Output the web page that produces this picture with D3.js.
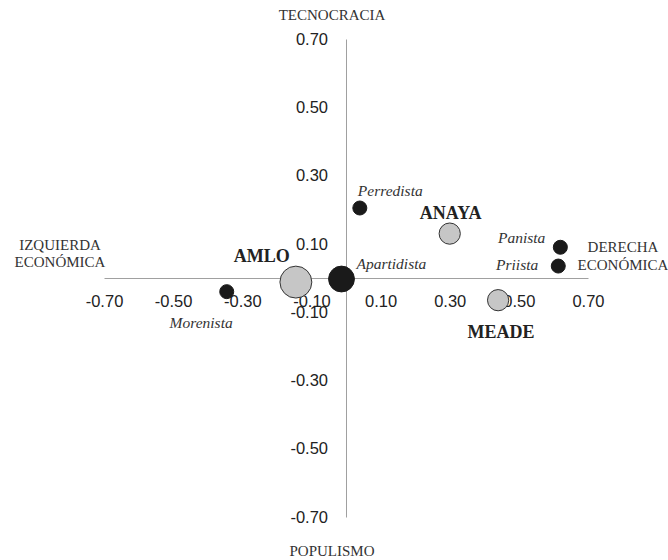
<!DOCTYPE html>
<html>
<head>
<meta charset="utf-8">
<script src="https://cdn.jsdelivr.net/npm/d3@7"></script>
<style>
  html, body { margin: 0; padding: 0; background: #fff; }
  svg { display: block; }
</style>
</head>
<body>
<svg id="chart" width="668" height="560"></svg>
<script>
// ---- data ----
const names   = ["Perredista", "ANAYA", "AMLO", "Apartidista", "Morenista", "MEADE", "Panista", "Priista"];
const xValues = [0.04, 0.30, -0.145, -0.013, -0.345, 0.44, 0.62, 0.614];
const yValues = [0.205, 0.13, -0.012, -0.003, -0.04, -0.065, 0.09, 0.035];
const sizes   = [1, 2.3, 5.2, 3.4, 1, 2.3, 1, 1];
const kinds   = ["party", "candidate", "candidate", "party", "party", "candidate", "party", "party"];
const xTicks  = [-0.7, -0.5, -0.3, -0.1, 0.1, 0.3, 0.5, 0.7];
const yTicks  = [0.7, 0.5, 0.3, 0.1, -0.1, -0.3, -0.5, -0.7];
const axisTitles = { top: "TECNOCRACIA", bottom: "POPULISMO", left: ["IZQUIERDA", "ECONÓMICA"], right: ["DERECHA", "ECONÓMICA"] };

// label placement (style only): [dx, dy, anchor]
const labelOffsets = {
  "Perredista": [-2, -12, "start"],
  "ANAYA": [1, -15, "middle"],
  "AMLO": [-6, -20, "end"],
  "Apartidista": [15, -10, "start"],
  "Morenista": [6, 36, "end"],
  "MEADE": [3, 38, "middle"],
  "Panista": [-15, -4, "end"],
  "Priista": [-20, 4, "end"]
};

const svg = d3.select("#chart");
const x = d3.scaleLinear().domain([-0.7, 0.7]).range([104, 588]);
const y = d3.scaleLinear().domain([-0.7, 0.7]).range([517, 39]);
const r = d3.scaleSqrt().domain([0, 1]).range([0, 7]);

const fmt = d => d.toFixed(2);
const tickFont = "'Liberation Sans', Arial, sans-serif";
const serif = "'Liberation Serif', 'Times New Roman', serif";

// horizontal axis
const gx = svg.append("g")
  .attr("transform", `translate(0,${y(0)})`)
  .call(d3.axisBottom(x).tickValues(xTicks).tickFormat(fmt).tickSize(0).tickSizeOuter(0).tickPadding(17));
// vertical axis
const gy = svg.append("g")
  .attr("transform", `translate(${x(0)},0)`)
  .call(d3.axisLeft(y).tickValues(yTicks).tickFormat(fmt).tickSize(0).tickSizeOuter(0).tickPadding(18));

[gx, gy].forEach(g => {
  g.select(".domain").attr("stroke", "#a0a0a0").attr("stroke-width", 1);
  g.selectAll("text").attr("font-family", tickFont).attr("font-size", 16.5).attr("fill", "#222");
});

// points
const data = names.map((n, i) => ({ name: n, x: xValues[i], y: yValues[i], s: sizes[i], kind: kinds[i] }));

svg.append("g").selectAll("circle").data(data).join("circle")
  .attr("cx", d => x(d.x))
  .attr("cy", d => y(d.y))
  .attr("r", d => r(d.s))
  .attr("fill", d => d.kind === "candidate" ? "#c6c6c6" : "#1a1a1a")
  .attr("stroke", d => d.kind === "candidate" ? "#333" : "#1a1a1a")
  .attr("stroke-width", 1);

// point labels
svg.append("g").selectAll("text").data(data).join("text")
  .attr("x", d => x(d.x) + labelOffsets[d.name][0])
  .attr("y", d => y(d.y) + labelOffsets[d.name][1])
  .attr("text-anchor", d => labelOffsets[d.name][2])
  .attr("font-family", serif)
  .attr("font-size", d => d.kind === "candidate" ? 18 : 15.5)
  .attr("font-weight", d => d.kind === "candidate" ? "bold" : "normal")
  .attr("font-style", d => d.kind === "candidate" ? "normal" : "italic")
  .attr("fill", d => d.kind === "candidate" ? "#222" : "#333")
  .text(d => d.name);

// axis titles
const titleG = svg.append("g").attr("font-family", serif).attr("font-size", 15).attr("fill", "#333");
titleG.append("text").attr("x", 332).attr("y", 20).attr("text-anchor", "middle").text(axisTitles.top);
titleG.append("text").attr("x", 332).attr("y", 556).attr("text-anchor", "middle").text(axisTitles.bottom);
axisTitles.left.forEach((t, i) => {
  titleG.append("text").attr("x", 60).attr("y", 250 + i * 17).attr("text-anchor", "middle").text(t);
});
axisTitles.right.forEach((t, i) => {
  titleG.append("text").attr("x", 623).attr("y", 252 + i * 18).attr("text-anchor", "middle").text(t);
});
</script>
</body>
</html>
